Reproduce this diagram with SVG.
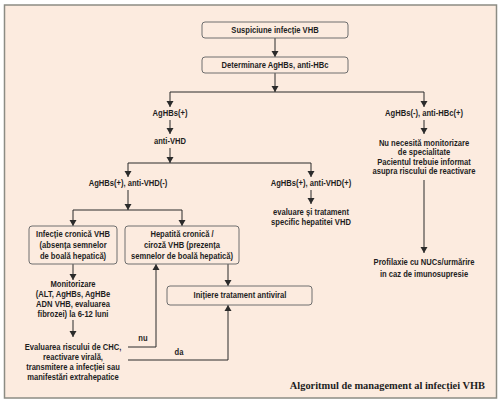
<svg xmlns="http://www.w3.org/2000/svg" width="504" height="404" viewBox="0 0 504 404">
<defs>
<marker id="ah" viewBox="0 0 6 8" refX="6" refY="4" markerWidth="6" markerHeight="8" markerUnits="userSpaceOnUse" orient="auto">
<path d="M0,0.5 L6,4 L0,7.5 Z" fill="#2b2b2b"/>
</marker>
<style>
.t{font-family:"Liberation Sans",Arial,sans-serif;font-weight:bold;font-size:9.5px;fill:#1e1e1e;text-anchor:middle;transform-box:fill-box;transform-origin:center;transform:scaleX(0.8)}
.box{fill:#fcebdf;stroke:#6e6e6e;stroke-width:1}
.c{fill:none;stroke:#2b2b2b;stroke-width:1}
.a{marker-end:url(#ah)}
.cap{font-family:"Liberation Serif","DejaVu Serif",serif;font-weight:bold;font-size:10.4px;fill:#1e1e1e;text-anchor:end}
</style>
</defs>
<rect x="0" y="0" width="504" height="404" fill="#ffffff"/>
<rect x="4.5" y="5" width="492" height="393" fill="#fcebdf" stroke="#8c8c84" stroke-width="1.5"/>

<g id="connectors">
<path class="c a" d="M275,38 V57"/>
<path class="c a" d="M275,73 V92"/>
<path class="c" d="M170,92 H424"/>
<path class="c a" d="M170,92 V107"/>
<path class="c a" d="M424,92 V107"/>
<path class="c a" d="M170,120 V134"/>
<path class="c a" d="M170,148 V163"/>
<path class="c" d="M128,163 H311"/>
<path class="c a" d="M128,163 V177"/>
<path class="c a" d="M311,163 V177"/>
<path class="c a" d="M128,190 V210"/>
<path class="c" d="M73,210 H182"/>
<path class="c a" d="M73,210 V226"/>
<path class="c a" d="M182,210 V226"/>
<path class="c a" d="M311,190 V204"/>
<path class="c a" d="M73,264 V280"/>
<path class="c a" d="M73,320 V337"/>
<path class="c a" d="M128,347 H156 V264"/>
<path class="c a" d="M128,360 H228 V305"/>
<path class="c a" d="M228,264 V286"/>
<path class="c a" d="M424,120 V134"/>
<path class="c a" d="M424,180 V253"/>
<text class="t" x="143" y="341">nu</text>
<text class="t" x="179" y="355">da</text>
</g>

<g id="n1"><rect class="box" x="202" y="22" width="146" height="16" rx="3"/><text class="t" x="275" y="33.5">Suspiciune infecție VHB</text></g>
<g id="n2"><rect class="box" x="202" y="57" width="146" height="16" rx="3"/><text class="t" x="275" y="68.5">Determinare AgHBs, anti-HBc</text></g>
<g id="n3"><text class="t" x="170" y="116.5">AgHBs(+)</text></g>
<g id="n4"><text class="t" x="170" y="144.5">anti-VHD</text></g>
<g id="n5"><text class="t" x="128" y="186.5">AgHBs(+), anti-VHD(-)</text></g>
<g id="n6"><text class="t" x="311" y="186.5">AgHBs(+), anti-VHD(+)</text></g>
<g id="n7"><text class="t" x="311" y="215">evaluare și tratament</text><text class="t" x="311" y="225">specific hepatitei VHD</text></g>
<g id="n8"><rect class="box" x="29" y="226" width="88" height="38" rx="3"/><text class="t" x="73" y="237.5">Infecție cronică VHB</text><text class="t" x="73" y="248.5">(absența semnelor</text><text class="t" x="73" y="259.5">de boală hepatică)</text></g>
<g id="n9"><rect class="box" x="125" y="226" width="114" height="38" rx="3"/><text class="t" x="182" y="237.5">Hepatită cronică /</text><text class="t" x="182" y="248.5">ciroză VHB (prezența</text><text class="t" x="182" y="259.5">semnelor de boală hepatică)</text></g>
<g id="n10"><text class="t" x="73" y="287">Monitorizare</text><text class="t" x="73" y="297">(ALT, AgHBs, AgHBe</text><text class="t" x="73" y="307">ADN VHB, evaluarea</text><text class="t" x="73" y="317">fibrozei) la 6-12 luni</text></g>
<g id="n11"><text class="t" x="73" y="350">Evaluarea riscului de CHC,</text><text class="t" x="73" y="360">reactivare virală,</text><text class="t" x="73" y="370">transmitere a infecției sau</text><text class="t" x="73" y="380">manifestări extrahepatice</text></g>
<g id="n12"><rect class="box" x="167" y="286" width="145" height="19" rx="3"/><text class="t" x="240" y="298.5">Inițiere tratament antiviral</text></g>
<g id="n13"><text class="t" x="424" y="116.5">AgHBs(-), anti-HBc(+)</text></g>
<g id="n14"><text class="t" x="424" y="146">Nu necesită monitorizare</text><text class="t" x="424" y="155.5">de specialitate</text><text class="t" x="424" y="165">Pacientul trebuie informat</text><text class="t" x="424" y="174.5">asupra riscului de reactivare</text></g>
<g id="n15"><text class="t" x="424" y="265">Profilaxie cu NUCs/urmărire</text><text class="t" x="424" y="277">in caz de imunosupresie</text></g>
<text class="cap" x="485" y="389">Algoritmul de management al infecției VHB</text>
</svg>
